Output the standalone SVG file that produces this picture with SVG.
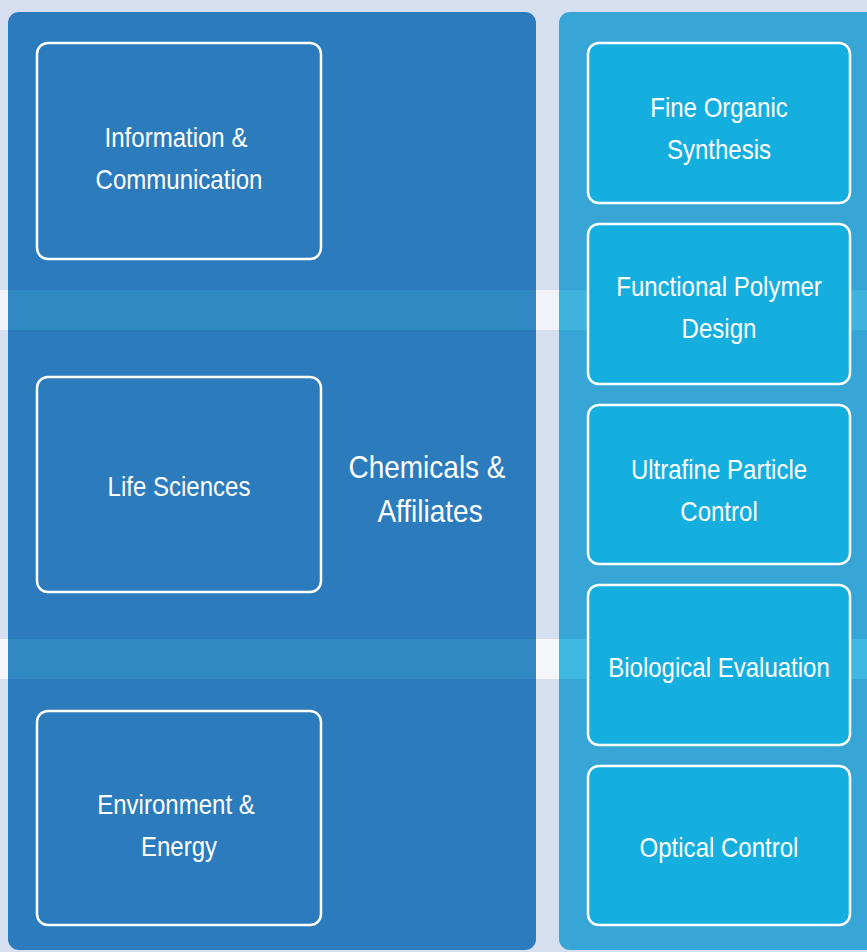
<svg xmlns="http://www.w3.org/2000/svg" width="867" height="952" viewBox="0 0 867 952">
<style>
.box{stroke:#fff;stroke-width:2.5}
.lbox{fill:none}
.rbox{fill:#14AFDF}
.t{font-family:"Liberation Sans",Arial,sans-serif;font-size:27px;fill:#fff;text-anchor:middle}
.big{font-size:32px}
</style>
<rect width="867" height="952" fill="#D5DFF0"/>
<g id="bands">
<rect x="0" y="290" width="867" height="40" fill="#F2F3F8"/>
<rect x="0" y="639" width="867" height="40" fill="#F6F7FB"/>
</g>
<g id="panels">
<rect id="panel-left" x="8" y="12" width="528" height="938" rx="11" fill="#2B7BBD"/>
<rect id="panel-right" x="559" y="12" width="320" height="938" rx="11" fill="#37A6D6"/>
<rect x="8" y="290" width="528" height="40" fill="#3189C4"/>
<rect x="8" y="639" width="528" height="40" fill="#3189C4"/>
<rect x="559" y="290" width="308" height="40" fill="#3FB3DC"/>
<rect x="559" y="639" width="308" height="40" fill="#3FB7DE"/>
</g>
<g id="center-label">
<text class="t big" transform="translate(427,478) scale(0.875,1)">Chemicals &amp;</text>
<text class="t big" transform="translate(430,522) scale(0.875,1)">Affiliates</text>
</g>
<g id="node-info">
<rect class="box lbox" x="37" y="43" width="284" height="216" rx="11"/>
<text class="t" transform="translate(176,147) scale(0.89,1)">Information &amp;</text>
<text class="t" transform="translate(179,189) scale(0.89,1)">Communication</text>
</g>
<g id="node-life">
<rect class="box lbox" x="37" y="377" width="284" height="215" rx="11"/>
<text class="t" transform="translate(179,496) scale(0.89,1)">Life Sciences</text>
</g>
<g id="node-env">
<rect class="box lbox" x="37" y="711" width="284" height="214" rx="11"/>
<text class="t" transform="translate(176,814) scale(0.89,1)">Environment &amp;</text>
<text class="t" transform="translate(179,856) scale(0.89,1)">Energy</text>
</g>
<g id="node-fine">
<rect class="box rbox" x="588" y="43" width="262" height="160" rx="11"/>
<text class="t" transform="translate(719,117) scale(0.89,1)">Fine Organic</text>
<text class="t" transform="translate(719,159) scale(0.89,1)">Synthesis</text>
</g>
<g id="node-polymer">
<rect class="box rbox" x="588" y="224" width="262" height="160" rx="11"/>
<text class="t" transform="translate(719,296) scale(0.89,1)">Functional Polymer</text>
<text class="t" transform="translate(719,338) scale(0.89,1)">Design</text>
</g>
<g id="node-particle">
<rect class="box rbox" x="588" y="405" width="262" height="159" rx="11"/>
<text class="t" transform="translate(719,479) scale(0.89,1)">Ultrafine Particle</text>
<text class="t" transform="translate(719,521) scale(0.89,1)">Control</text>
</g>
<g id="node-bio">
<rect class="box rbox" x="588" y="585" width="262" height="160" rx="11"/>
<text class="t" transform="translate(719,677) scale(0.89,1)">Biological Evaluation</text>
</g>
<g id="node-optical">
<rect class="box rbox" x="588" y="766" width="262" height="159" rx="11"/>
<text class="t" transform="translate(719,857) scale(0.89,1)">Optical Control</text>
</g>
<g id="connectors"/>
</svg>
